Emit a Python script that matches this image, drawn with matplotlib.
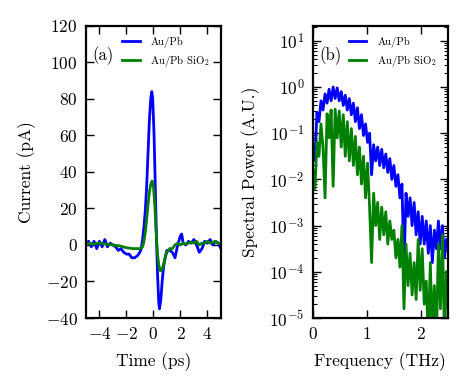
import numpy as np
import matplotlib
matplotlib.use("Agg")
import matplotlib.pyplot as plt

plt.rcParams['font.family'] = 'cmr10'
plt.rcParams['mathtext.fontset'] = 'cm'
plt.rcParams['axes.formatter.use_mathtext'] = True
plt.rcParams['axes.unicode_minus'] = True

# time domain traces
t_blue = [-5.0, -4.8, -4.6, -4.4, -4.2, -4.0, -3.8, -3.6, -3.4, -3.2, -3.0, -2.8,
          -2.6, -2.4, -2.2, -2.0, -1.8, -1.6, -1.4, -1.2, -1.0, -0.9, -0.8, -0.7,
          -0.6, -0.5, -0.4, -0.3, -0.2, -0.12, -0.05, 0.05, 0.12, 0.2, 0.3, 0.4,
          0.45, 0.55, 0.65, 0.75, 0.9, 1.0, 1.2, 1.4, 1.6, 1.8, 2.0, 2.1, 2.2,
          2.4, 2.6, 2.8, 3.0, 3.2, 3.4, 3.6, 3.8, 4.0, 4.2, 4.4, 4.6, 4.8, 5.0]
i_blue = [1, 2, -1, 2, -2, 2, -1, 3, -1, 1, 0, -1,
          -3, -2, -4, -5, -5, -7, -7, -6, -4, -2, 3, 10,
          19, 32, 50, 68, 80, 84, 80, 60, 38, 12, -15, -32,
          -35, -30, -20, -12, -6, -3, -3, -4, -7, 0, 5, 6, 1,
          0, 2, 1, 3, 0, -4, -2, 2, 1, 3, 0, 2, 1, -2]

t_green = [-5.0, -4.5, -4.0, -3.5, -3.0, -2.5, -2.0, -1.5, -1.0, -0.8, -0.7, -0.6,
           -0.5, -0.4, -0.3, -0.2, -0.1, 0.0, 0.1, 0.2, 0.3, 0.4, 0.5, 0.6,
           0.7, 0.8, 0.9, 1.0, 1.2, 1.4, 1.6, 1.8, 2.0, 2.2, 2.4, 2.6, 2.8,
           3.0, 3.2, 3.4, 3.6, 3.8, 4.0, 4.2, 4.4, 4.6, 4.8, 5.0]
i_green = [1, 0.5, 1, 0.5, 0, -0.5, -1.5, -2, -2, -1, 2, 7,
           14, 22, 29, 33, 35, 32, 22, 7, -5, -11, -14, -14,
           -12, -9, -6, -4, -2, -2, 0, 1, 0, 1, 0.5, 1, 1.5,
           1, 2, 0, 1, 1, 2, 1, 1.5, 2, 1, 0.5]

# spectra (log10 of spectral power)
freq = np.round(np.arange(67) * 0.0375, 4)
logp_blue = [-1.3, -1.6, -0.55, -0.75, -0.3, -0.5, -0.15, -0.35, -0.05, -0.3,
             0.0, -0.25, -0.02, -0.3, -0.1, -0.4, -0.18, -0.5, -0.25, -0.6,
             -0.35, -0.75, -0.45, -0.9, -0.6, -1.05, -0.8, -1.2, -1.0, -1.9,
             -1.25, -1.6, -1.3, -1.7, -1.35, -1.75, -1.45, -1.85, -1.55, -2.0,
             -1.7, -2.15, -1.9, -2.4, -2.1, -3.9, -2.3, -2.8, -2.4, -3.0,
             -2.5, -3.2, -2.7, -3.4, -2.8, -3.4, -2.9, -3.6, -3.0, -3.8,
             -3.1, -3.5, -2.9, -3.5, -3.0, -3.7, -3.3]
logp_green = [-1.8, -2.2, -1.2, -1.5, -0.8, -1.3, -2.4, -0.58, -1.1, -0.5,
              -2.15, -0.48, -1.1, -0.52, -1.3, -0.6, -1.5, -0.75, -1.6, -0.9,
              -1.7, -1.07, -1.9, -1.3, -2.1, -1.5, -2.4, -1.65, -2.6, -3.8,
              -2.3, -3.0, -2.5, -3.3, -2.6, -3.2, -2.7, -3.4, -2.9, -3.3,
              -3.1, -3.7, -3.3, -3.9, -3.0, -4.8, -3.4, -4.3, -3.6, -4.5,
              -3.8, -4.6, -3.3, -4.4, -3.5, -4.7, -4.2, -5.5, -3.8, -5.3,
              -4.3, -5.5, -3.4, -4.8, -3.2, -5.5, -4.0]

fig = plt.figure(figsize=(4.67, 3.89), dpi=100)
ax1 = fig.add_axes([0.184, 0.1825, 0.289, 0.751])
ax2 = fig.add_axes([0.670, 0.1825, 0.289, 0.751])

ax1.plot(t_blue, i_blue, color='#0000ff', lw=2, label='Au/Pb')
ax1.plot(t_green, i_green, color='#008000', lw=2, label='Au/Pb SiO$_2$')
ax1.set_xlim(-5, 5)
ax1.set_ylim(-40, 120)
ax1.set_xticks([-4, -2, 0, 2, 4])
ax1.set_xlabel('Time (ps)', fontsize=12.5, labelpad=7)
ax1.set_ylabel('Current (pA)', fontsize=12.5, labelpad=7)
ax1.text(0.05, 0.93, '(a)', transform=ax1.transAxes, fontsize=12, va='top')

ax2.semilogy(freq, 10.0 ** np.array(logp_blue), color='#0000ff', lw=2, label='Au/Pb')
ax2.semilogy(freq, 10.0 ** np.array(logp_green), color='#008000', lw=2, label='Au/Pb SiO$_2$')
ax2.set_xlim(0, 2.5)
ax2.set_ylim(1e-5, 21)
ax2.set_xticks([0, 1, 2])
ax2.yaxis.set_major_locator(plt.LogLocator(base=10, numticks=20))
ax2.yaxis.set_minor_locator(plt.LogLocator(base=10, subs=np.arange(2, 10), numticks=100))
ax2.set_xlabel('Frequency (THz)', fontsize=12.5, labelpad=7)
ax2.set_ylabel('Spectral Power (A.U.)', fontsize=12.5, labelpad=7)
ax2.text(0.05, 0.93, '(b)', transform=ax2.transAxes, fontsize=12, va='top')

for ax in (ax1, ax2):
    ax.tick_params(which='both', direction='in', top=True, right=True, labelsize=12.5, pad=6)
    ax.tick_params(which='major', length=6, width=1)
    ax.tick_params(which='minor', length=3, width=0.8)
    for s in ax.spines.values():
        s.set_linewidth(1.6)
    ax.legend(loc='upper right', frameon=False, fontsize=7.8, handlelength=1.6,
              handletextpad=1.0, borderaxespad=0.7, borderpad=0.3, labelspacing=0.45)

fig.savefig('out.png', dpi=100)
